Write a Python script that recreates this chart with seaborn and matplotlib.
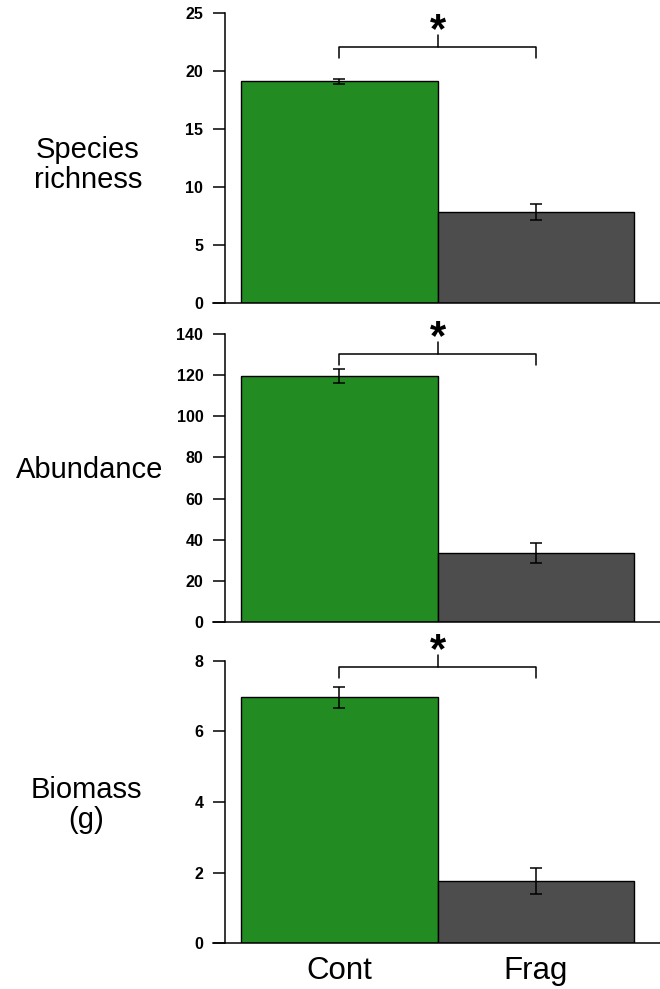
import matplotlib
matplotlib.use("Agg")
import matplotlib.pyplot as plt
import matplotlib.transforms as mtransforms
import seaborn as sns
import pandas as pd

sns.set_style("white")
plt.rcParams['font.family'] = ['Liberation Sans', 'DejaVu Sans']
plt.rcParams['text.color'] = 'black'
plt.rcParams['xtick.color'] = 'black'
plt.rcParams['ytick.color'] = 'black'
plt.rcParams['axes.labelcolor'] = 'black'

groups = ["Cont", "Frag"]
bar_colors = ["#228B22", "#4D4D4D"]

panel_labels = ["Species\nrichness", "Abundance", "Biomass\n(g)"]
richness_mean = [19.1, 7.8]
richness_se = [0.2, 0.7]
abundance_mean = [119.5, 33.5]
abundance_se = [3.5, 4.7]
biomass_mean = [6.96, 1.76]
biomass_se = [0.3, 0.36]

means = [richness_mean, abundance_mean, biomass_mean]
ses = [richness_se, abundance_se, biomass_se]
yticks = [[0, 5, 10, 15, 20, 25],
          [0, 20, 40, 60, 80, 100, 120, 140],
          [0, 2, 4, 6, 8]]
ylims = [25.69, 144.4, 8.44]
bracket_levels = [0.859, 0.902, 0.925]

fig = plt.figure(figsize=(6.6, 9.89), dpi=100)
rects = [[213/660, 1-302.7/989, 447/660, 297.7/989],
         [213/660, 1-622/989, 447/660, 297/989],
         [213/660, 1-943.3/989, 447/660, 298.3/989]]
label_pos = [(88/660, 1-165/989), (90/660, 1-470/989), (86/660, 1-805/989)]

for i in range(3):
    ax = fig.add_axes(rects[i])
    df = pd.DataFrame({"group": groups, "value": means[i]})
    sns.barplot(data=df, x="group", y="value", hue="group", palette=bar_colors,
                width=1.0, edgecolor="black", linewidth=1.0, legend=False,
                errorbar=None, saturation=1, ax=ax, zorder=2)
    ax.errorbar(x=[0, 1], y=means[i], yerr=ses[i], fmt="none", ecolor="black",
                elinewidth=1.1, capsize=4.2, capthick=1.1, zorder=3)
    ax.set_xlim(-0.6425, 1.632)
    ax.set_ylim(0, ylims[i])
    ax.set_yticks(yticks[i])
    ax.set_yticklabels([str(t) for t in yticks[i]])
    ax.set_xlabel("")
    ax.set_ylabel("")
    for s in ["top", "right"]:
        ax.spines[s].set_visible(False)
    ax.spines["left"].set_position(("data", -0.5814))
    ax.spines["left"].set_bounds(0, yticks[i][-1])
    ax.spines["left"].set_linewidth(1.1)
    ax.spines["bottom"].set_linewidth(1.1)
    ax.spines["left"].set_color("black")
    ax.spines["bottom"].set_color("black")
    ax.tick_params(axis="y", length=8.6, width=1.1, pad=7, colors="black",
                   left=True, labelsize=11.5)
    ax.tick_params(axis="x", length=0, pad=9)
    for lab in ax.get_yticklabels():
        lab.set_fontweight("bold")
        lab.set_color("black")
    if i < 2:
        ax.set_xticklabels([])
    else:
        ax.set_xticks([0, 1])
        ax.set_xticklabels(groups, fontsize=22.5, color="black")

    trans = mtransforms.blended_transform_factory(ax.transData, ax.transAxes)
    b = bracket_levels[i]
    ax.plot([0, 0, 1, 1], [b - 0.036, b, b, b - 0.036], color="black", lw=1.1,
            transform=trans, clip_on=False, zorder=4)
    ax.plot([0.5, 0.5], [b, b + 0.04], color="black", lw=1.1,
            transform=trans, clip_on=False, zorder=4)
    ax.text(0.5, b - 0.014, "*", transform=trans, ha="center", va="bottom",
            fontsize=30, fontweight="bold", clip_on=False, color="black")

    fig.text(label_pos[i][0], label_pos[i][1], panel_labels[i], ha="center",
             va="center", fontsize=21, linespacing=1.05, color="black")

fig.savefig("out.png", dpi=100)
